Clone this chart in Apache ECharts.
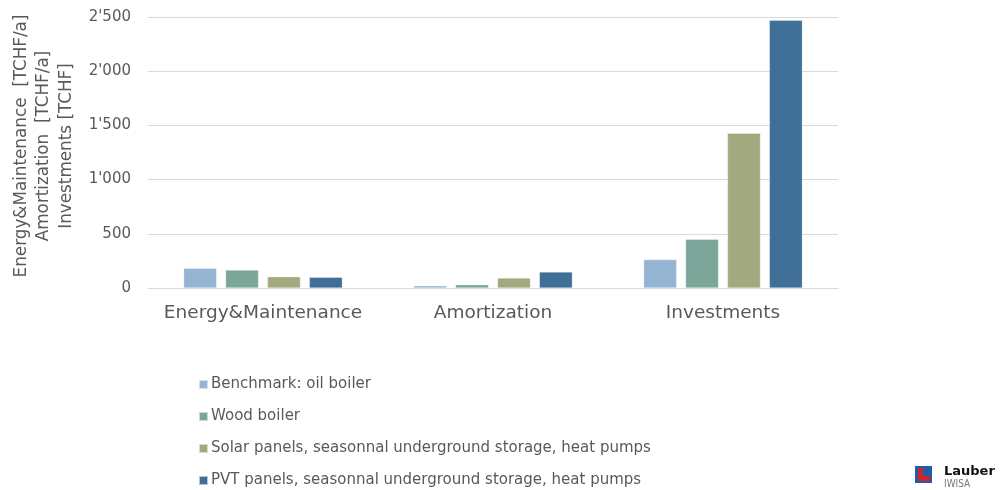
<!DOCTYPE html>
<html>
<head>
<meta charset="utf-8">
<script src="https://cdn.jsdelivr.net/npm/echarts@6/dist/echarts.min.js"></script>
<style>
  html, body { margin: 0; padding: 0; background: #fff; }
  #chart { width: 1000px; height: 490px; }
</style>
</head>
<body>
<div id="chart"></div>
<script>
// Cost categories and per-variant values (TCHF/a, TCHF)
const categories = ['Energy&Maintenance', 'Amortization', 'Investments'];
const seriesNames = [
  'Benchmark: oil boiler',
  'Wood boiler',
  'Solar panels, seasonnal underground storage, heat pumps',
  'PVT panels, seasonnal underground storage, heat pumps'
];
const benchmark = [182, 21, 262];
const woodBoiler = [166, 30, 450];
const solarPanels = [104, 92, 1427];
const pvtPanels = [99, 148, 2469];
const yTicks = [0, 500, 1000, 1500, 2000, 2500];
const axisTitleLines = ['Energy&Maintenance  [TCHF/a]', 'Amortization  [TCHF/a]', 'Investments [TCHF]'];

const colors = ['#95b4d4', '#7ba699', '#a3a97e', '#3f6f97'];
const textGrey = '#595959';
const font = 'DejaVu Sans';

const values = [benchmark, woodBoiler, solarPanels, pvtPanels];

const chart = echarts.init(document.getElementById('chart'));
chart.setOption({
  animation: false,
  backgroundColor: '#ffffff',
  grid: { left: 148, right: 162, top: 17, bottom: 202 },
  legend: {
    orient: 'vertical',
    left: 198,
    top: 377,
    padding: 0,
    itemWidth: 9,
    itemHeight: 9,
    itemGap: 17,
    icon: 'rect',
    textStyle: { color: textGrey, fontFamily: font, fontSize: 15, padding: [0, 0, 0, -2] },
    data: seriesNames
  },
  xAxis: {
    type: 'category',
    data: categories,
    axisLine: { show: true, lineStyle: { color: '#d9d9d9', width: 1 } },
    axisTick: { show: false },
    axisLabel: { interval: 0, color: textGrey, fontFamily: font, fontSize: 18.5, margin: 16 }
  },
  yAxis: {
    type: 'value',
    min: yTicks[0],
    max: yTicks[yTicks.length - 1],
    interval: 500,
    axisLine: { show: false },
    axisTick: { show: false },
    splitLine: { lineStyle: { color: '#d9d9d9', width: 1 } },
    axisLabel: {
      color: textGrey, fontFamily: font, fontSize: 15, margin: 17,
      formatter: v => String(v).replace(/\B(?=(\d{3})+(?!\d))/g, "'")
    }
  },
  series: seriesNames.map((name, i) => ({
    name,
    type: 'bar',
    data: values[i],
    barWidth: 33,
    barGap: '27%',
    itemStyle: { color: colors[i], borderColor: 'rgba(255,255,255,0.6)', borderWidth: 0.5 }
  })),
  graphic: [
    // multi-line rotated axis title
    {
      type: 'text',
      x: 44,
      y: 146,
      rotation: Math.PI / 2,
      style: {
        text: axisTitleLines.join('\n'),
        fill: textGrey,
        fontFamily: font,
        fontSize: 16.8,
        lineHeight: 22.5,
        align: 'center',
        verticalAlign: 'middle'
      }
    },
    // company mark, bottom right
    { type: 'rect', shape: { x: 915, y: 466, width: 17, height: 17 }, style: { fill: '#1d5ea8' } },
    { type: 'polygon', shape: { points: [[918, 468], [923, 468], [923, 476], [930, 476], [930, 481], [918, 481]] }, style: { fill: '#d2232a' } },
    { type: 'text', x: 944, y: 472, style: { text: 'Lauber', fill: '#111', fontFamily: 'DejaVu Sans', fontWeight: 'bold', fontSize: 13, verticalAlign: 'middle' } },
    { type: 'text', x: 944, y: 484, style: { text: 'IWISA', fill: '#777', fontFamily: 'DejaVu Sans Condensed', fontSize: 10, verticalAlign: 'middle' } }
  ]
});
</script>
</body>
</html>
